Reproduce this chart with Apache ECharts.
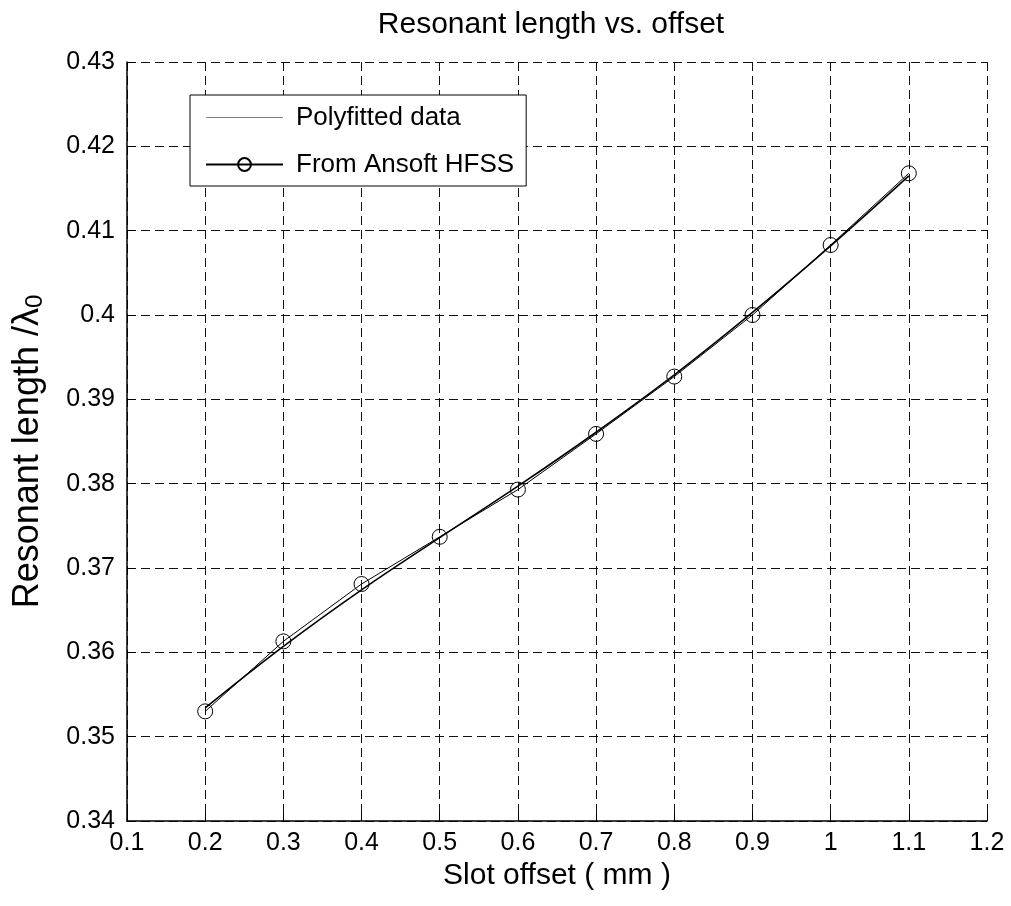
<!DOCTYPE html>
<html>
<head>
<meta charset="utf-8">
<script src="https://cdn.jsdelivr.net/npm/echarts@6/dist/echarts.min.js"></script>
<style>html,body{margin:0;padding:0;background:#fff;}#c{width:1011px;height:906px;}</style>
</head>
<body>
<div id="c"></div>
<script>
const xValues = [0.2, 0.3, 0.4, 0.5, 0.6, 0.7, 0.8, 0.9, 1.0, 1.1];
const ansoftHFSS = [0.3530, 0.3613, 0.3681, 0.3737, 0.3793, 0.3859, 0.3927, 0.4000, 0.4083, 0.4168];
const polyfitted = [0.3534, 0.3607, 0.3674, 0.3736, 0.3797, 0.3861, 0.3929, 0.4003, 0.4082, 0.4165];
const xTickLabels = ['0.1','0.2','0.3','0.4','0.5','0.6','0.7','0.8','0.9','1','1.1','1.2'];
const yTickLabels = ['0.34','0.35','0.36','0.37','0.38','0.39','0.4','0.41','0.42','0.43'];
const seriesNames = ['Polyfitted data', 'From Ansoft HFSS'];

const tickFont = "'Liberation Sans', Arial, sans-serif";
const mainFont = "'Liberation Sans', Arial, sans-serif";
const gridDash = { color: '#111', width: 1, type: [9, 5] };
const lineOnlyIcon = 'path://M0,0 L0.01,0 M0,15.5 L154,15.5 L154,16.5 L0,16.5 Z M0,32 L0.01,32';

const chart = echarts.init(document.getElementById('c'), null, { renderer: 'canvas' });
chart.setOption({
  backgroundColor: '#fff',
  animation: false,
  title: {
    text: 'Resonant length vs. offset',
    left: 546, textAlign: 'center', top: 5,
    textStyle: { fontFamily: mainFont, fontSize: 30, fontWeight: 'normal', color: '#000' }
  },
  grid: { left: 127, right: 24, top: 62, bottom: 85, containLabel: false },
  legend: {
    orient: 'vertical',
    left: 190, top: 95,
    padding: [5, 12, 4, 15],
    itemGap: 12,
    itemWidth: 77, itemHeight: 16,
    borderColor: '#000', borderWidth: 1,
    backgroundColor: '#fff',
    data: [{ name: seriesNames[0], icon: lineOnlyIcon, itemStyle: { color: '#000' } }, { name: seriesNames[1] }],
    textStyle: { fontFamily: mainFont, fontSize: 26, color: '#000', lineHeight: 35, padding: [0, 0, 0, 8] }
  },
  xAxis: {
    type: 'value', min: 0.1, max: 1.2, interval: 0.1,
    name: 'Slot offset ( mm )', nameLocation: 'middle', nameGap: 38,
    nameTextStyle: { fontFamily: mainFont, fontSize: 30, color: '#000' },
    axisLine: { show: true, onZero: false, lineStyle: { color: '#000', width: 1.5 } },
    axisTick: { show: true, inside: true, length: 8, lineStyle: { color: '#000' } },
    axisLabel: {
      margin: 10, fontFamily: tickFont, fontSize: 25, color: '#000',
      formatter: v => xTickLabels[Math.round((v - 0.1) / 0.1)]
    },
    splitLine: { show: true, lineStyle: gridDash }
  },
  yAxis: {
    type: 'value', min: 0.34, max: 0.43, interval: 0.01,
    name: 'Resonant length /λ{sub|0}', nameLocation: 'middle', nameGap: 80, nameRotate: 90,
    nameTextStyle: {
      fontFamily: mainFont, fontSize: 36, color: '#000', padding: [0, 20, 0, 0],
      rich: { sub: { fontFamily: mainFont, fontSize: 24, color: '#000', verticalAlign: 'bottom', padding: [14, 0, 0, 0] } }
    },
    axisLine: { show: true, onZero: false, lineStyle: { color: '#000', width: 1.5 } },
    axisTick: { show: true, inside: true, length: 8, lineStyle: { color: '#000' } },
    axisLabel: {
      margin: 12, fontFamily: tickFont, fontSize: 25, color: '#000',
      formatter: v => yTickLabels[Math.round((v - 0.34) / 0.01)]
    },
    splitLine: { show: true, lineStyle: gridDash }
  },
  series: [
    {
      name: seriesNames[0], type: 'line', smooth: 0.4,
      data: xValues.map((x, i) => [x, polyfitted[i]]),
      symbol: 'none',
      lineStyle: { color: '#000', width: 1.6 },
      itemStyle: { color: '#000' },
      z: 3
    },
    {
      name: seriesNames[1], type: 'line',
      data: xValues.map((x, i) => [x, ansoftHFSS[i]]),
      symbol: 'circle', symbolSize: 15,
      lineStyle: { color: '#000', width: 1 },
      itemStyle: { color: 'rgba(255,255,255,0)', borderColor: '#000', borderWidth: 1 },
      z: 4
    }
  ]
});
</script>
</body>
</html>
